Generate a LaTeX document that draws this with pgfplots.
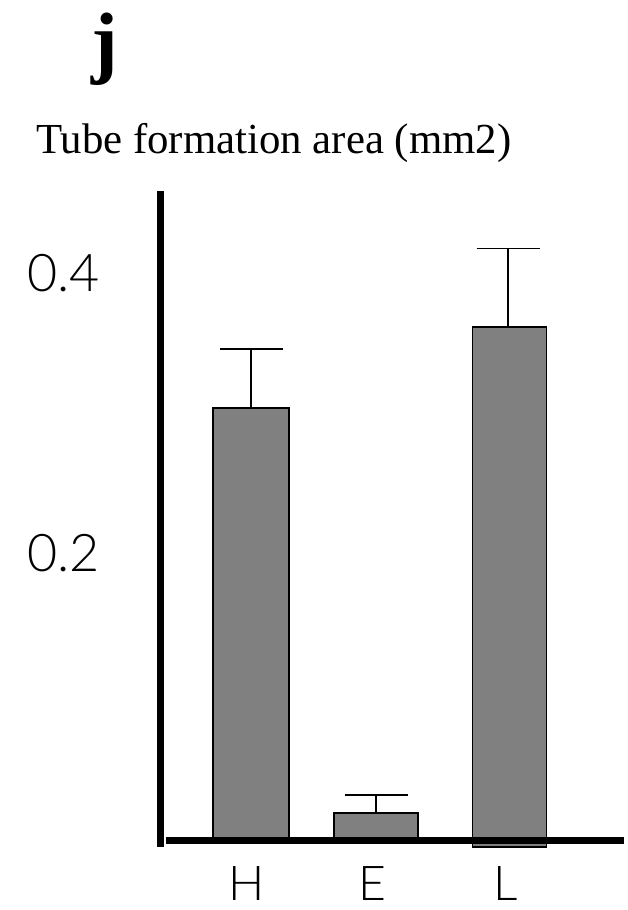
\documentclass[border=0pt]{standalone}
\usepackage{pgfplots}
\pgfplotsset{compat=1.18}
\usepackage{fontspec}
\setmainfont{Liberation Serif}
\newfontfamily\tickfont{Lato Light}
\definecolor{barg}{RGB}{128,128,128}
\begin{document}
\begin{tikzpicture}[x=1pt,y=1pt]
\path[use as bounding box] (0,0) rectangle (628,-910);
\node[anchor=base, font=\bfseries\fontsize{80}{80}\selectfont, inner sep=0pt] at (105,-68) {j};
\node[anchor=base west, font=\fontsize{42.8}{42.8}\selectfont, inner sep=0pt] at (36,-153) {Tube formation area (mm2)};
\begin{axis}[
  scale only axis,
  width=463.5pt, height=656pt,
  at={(160.5pt,-847pt)}, anchor=south west,
  xmin=160.5, xmax=624,
  ymin=-0.0064, ymax=0.4621,
  clip=false,
  axis line style={draw=none},
  major tick length=0pt,
  tick style={draw=none},
  ytick={0.2,0.4}, yticklabels={0.2,0.4},
  xtick={251,376,509.5}, xticklabels={H,E,L},
  yticklabel style={font=\tickfont\fontsize{52}{52}\selectfont, anchor=center, xshift=-97pt, yshift=4.5pt},
  xticklabel style={font=\tickfont\fontsize{48}{48}\selectfont, anchor=center, yshift=-37pt, xshift=-4pt},
]
% bars
\addplot[ybar, bar width=76, bar shift=0pt, fill=barg, draw=black, line width=1.8pt] coordinates {(251,0.307)};
\addplot[ybar, bar width=84, bar shift=0pt, fill=barg, draw=black, line width=1.8pt] coordinates {(376,0.018)};
\addplot[fill=barg, draw=black, line width=1.8pt] coordinates {(472.5,-0.0064) (472.5,0.365) (546.5,0.365) (546.5,-0.0064)} -- cycle;
% error bars (upper only)
\addplot[draw=none, mark=none, black,
  error bars/.cd, y dir=plus, y explicit,
  error bar style={line width=1.8pt, black},
  error mark options={rotate=90, mark size=31.5pt, line width=1.8pt, black}]
  coordinates {(251,0.307) +- (0,0.042) (376,0.018) +- (0,0.013) (508,0.365) +- (0,0.056)};
% axis lines
\draw[line width=7pt] (axis cs:160.5,0.4621) -- (axis cs:160.5,-0.0064);
\draw[line width=7pt] (axis cs:166,-0.00143) -- (axis cs:624,-0.00143);
\end{axis}
\end{tikzpicture}
\end{document}
